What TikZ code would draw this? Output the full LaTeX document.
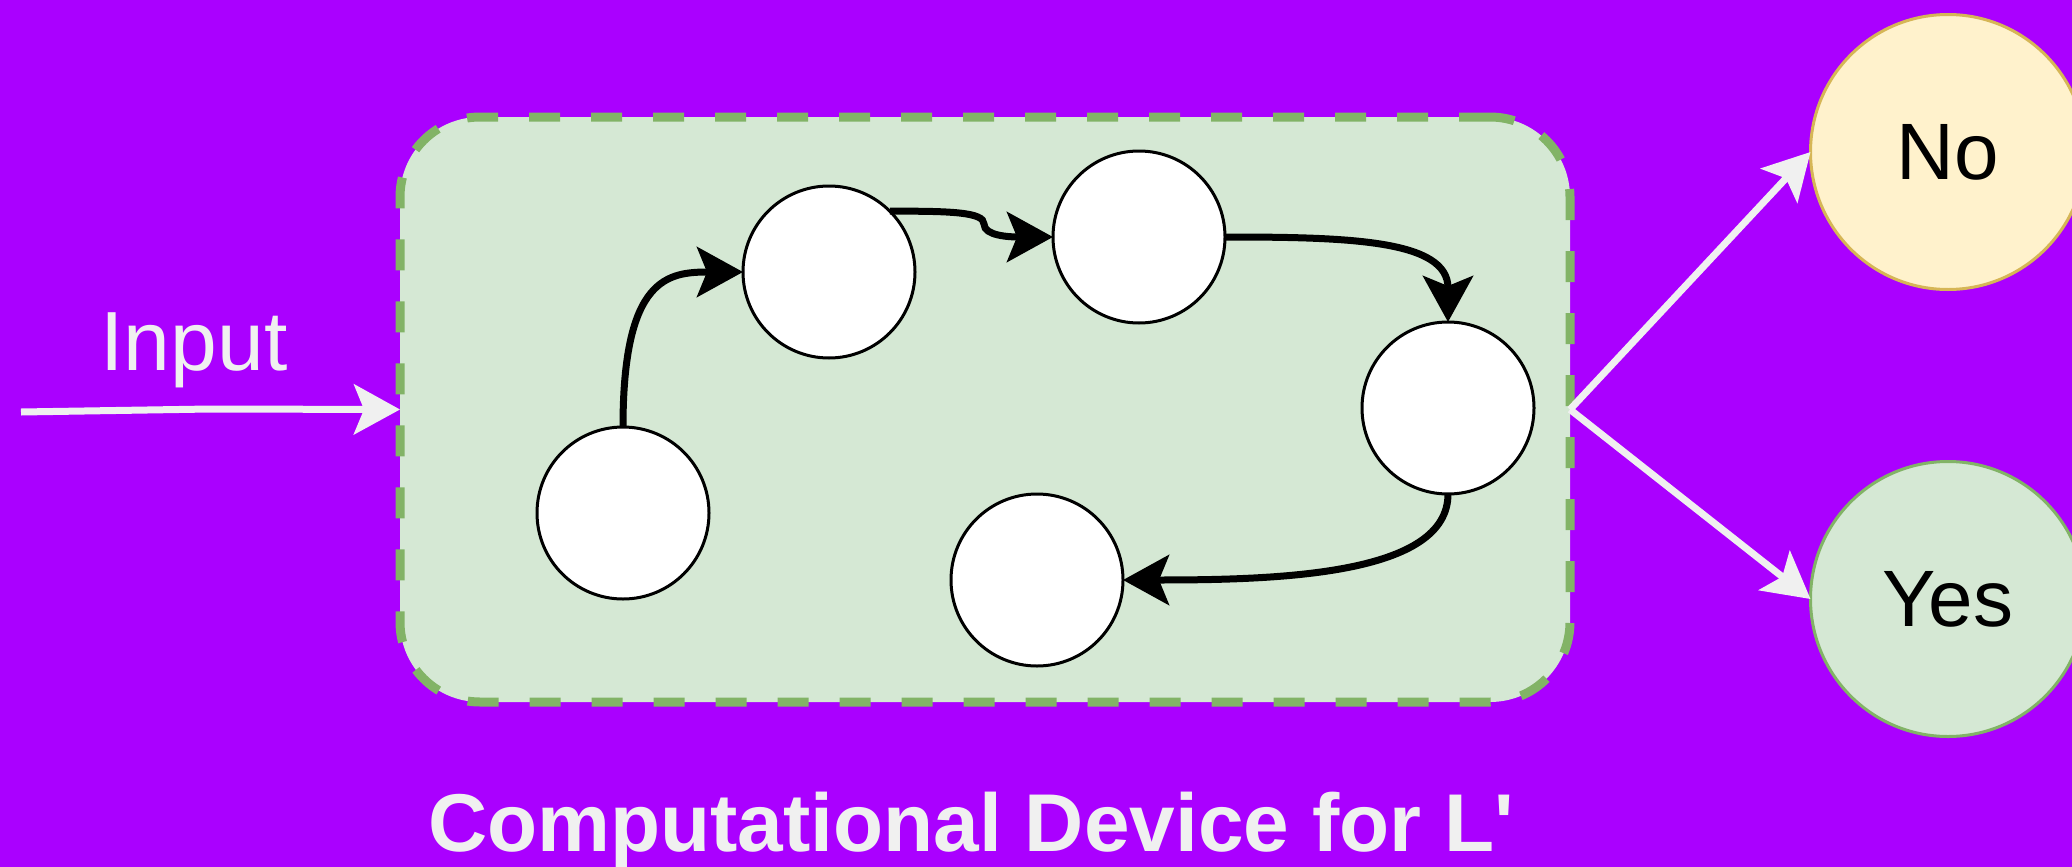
\documentclass[tikz,border=0pt]{standalone}
\usepackage{fontspec}
\setmainfont{Liberation Sans}
\usetikzlibrary{arrows.meta}
\definecolor{bgpurple}{HTML}{AA00FF}
\definecolor{boxfill}{HTML}{D5E8D4}
\definecolor{boxline}{HTML}{82B366}
\definecolor{nofill}{HTML}{FFF2CC}
\definecolor{noline}{HTML}{D6B656}
\definecolor{lighttext}{HTML}{F0F0F0}

\begin{document}
\begin{tikzpicture}[x=0.5pt,y=-0.5pt,
  state/.style={circle, draw=black, line width=1.5pt, fill=white,
    minimum size=86pt, inner sep=0pt, outer sep=0pt},
  answer/.style={circle, line width=1.5pt, minimum size=137.5pt,
    inner sep=0pt, outer sep=0pt, text=black,
    font=\fontsize{40}{48}\selectfont},
  flow/.style={line width=3.5pt, draw=black,
    -{Stealth[length=23pt,width=25pt,inset=5pt]}},
  whitearrow/.style={line width=3.5pt, draw=lighttext,
    -{Stealth[length=23pt,width=25pt,inset=5pt]}},
  txt/.style={text=lighttext, inner sep=0pt, anchor=base}
]
% canvas
\fill[bgpurple] (0,0) rectangle (2072,867);
\useasboundingbox (0,0) rectangle (2072,867);

% the device
\node[draw=boxline, fill=boxfill, line width=4.5pt,
      dash pattern=on 15.5pt off 15.5pt, rounded corners=40pt,
      minimum width=585pt, minimum height=292.5pt,
      inner sep=0pt, outer sep=0pt] (device) at (985,409.5) {};

% internal states
\node[state] (s1) at (623,513) {};
\node[state] (s2) at (829,272) {};
\node[state] (s3) at (1139,237) {};
\node[state] (s4) at (1448,408) {};
\node[state] (s5) at (1037,580) {};

% answers
\node[answer, draw=noline, fill=nofill] (no) at (1948,152) {No};
\node[answer, draw=boxline, fill=boxfill] (yes) at (1948,599) {Yes};

% transitions
\draw[flow] (s1.north) .. controls +(0,-150) and +(-75,0) .. (s2.west);
\draw[flow] (s2.45) .. controls (950,211) and (984,212) .. (984,224)
            .. controls (984,236) and (1010,237) .. (s3.west);
\draw[flow] (s3.east) .. controls (1350,237) and (1448,240) .. (s4.north);
\draw[flow] (s4.south) .. controls (1448,575) and (1280,580) .. (s5.east);

% input and outputs
\coordinate (src) at (21,412);
\draw[whitearrow] (src) -- (210,409) -- (device.west);
\draw[whitearrow] (device.east) -- (no.west);
\draw[whitearrow] (device.east) -- (yes.west);

% labels
\node[txt, font=\fontsize{42}{50}\selectfont] (inputlabel) at (194,370) {Input};
\node[txt, font=\bfseries\fontsize{41}{49}\selectfont] (title) at (971,851)
  {Computational Device for L\textquotesingle};
\end{tikzpicture}
\end{document}
